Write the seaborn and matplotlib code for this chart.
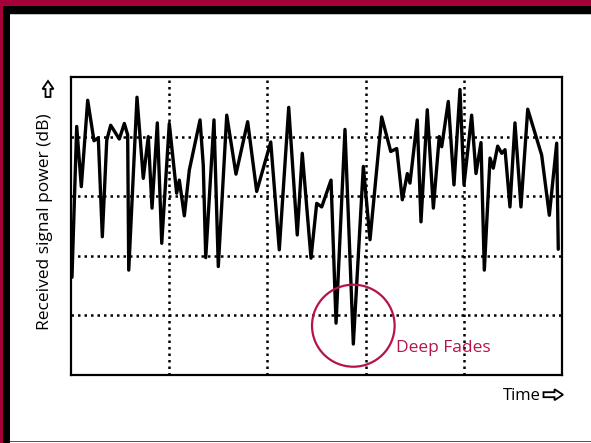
import numpy as np
import pandas as pd
import matplotlib
matplotlib.use("Agg")
import matplotlib.pyplot as plt
from matplotlib.patches import Rectangle, Ellipse, Polygon
import seaborn as sns

# ---- data (axis units 0..5 on both axes) ----
time = [0.01, 0.058, 0.105, 0.17, 0.234, 0.278, 0.319, 0.364, 0.404, 0.492,
        0.543, 0.577, 0.588, 0.672, 0.736, 0.787, 0.825, 0.879, 0.924, 1.001,
        1.076, 1.103, 1.154, 1.205, 1.314, 1.347, 1.372, 1.456, 1.50, 1.586,
        1.680, 1.799, 1.891, 2.034, 2.121, 2.217, 2.304, 2.355, 2.444, 2.502,
        2.553, 2.648, 2.699, 2.790, 2.875, 2.977, 3.045, 3.164, 3.256, 3.317,
        3.374, 3.425, 3.452, 3.526, 3.564, 3.628, 3.690, 3.750, 3.775, 3.842,
        3.900, 3.961, 4.002, 4.080, 4.124, 4.175, 4.209, 4.267, 4.300, 4.345,
        4.386, 4.420, 4.470, 4.521, 4.582, 4.651, 4.793, 4.871, 4.946, 4.962]
power = [1.64, 4.17, 3.16, 4.61, 3.93, 3.98, 2.32, 3.94, 4.19, 3.96,
         4.22, 4.03, 1.76, 4.66, 3.30, 4.00, 2.80, 4.23, 2.21, 4.22,
         3.05, 3.27, 2.67, 3.44, 4.28, 3.52, 1.97, 4.28, 1.82, 4.36,
         3.37, 4.25, 3.08, 3.91, 2.10, 4.49, 2.35, 3.72, 1.96, 2.88,
         2.82, 3.27, 0.87, 4.12, 0.52, 3.50, 2.27, 4.33, 3.75, 3.80,
         2.94, 3.38, 3.22, 4.28, 2.57, 4.45, 2.80, 4.00, 3.83, 4.59,
         3.19, 4.79, 3.19, 4.36, 3.38, 3.90, 1.76, 3.64, 3.47, 3.84,
         3.72, 3.78, 2.82, 4.23, 2.82, 4.46, 3.69, 2.68, 3.89, 2.11]
grid_ticks = [1, 2, 3, 4]
ylabel_text = "Received signal power (dB)"
xlabel_text = "Time"
annot_text = "Deep Fades"
fade_center = (2.875, 0.827)

RED = "#A6003A"
ACCENT = "#B8124C"
W, H = 591, 443

sns.set_theme(style="white")
plt.rcParams['font.family'] = ['Open Sans', 'DejaVu Sans']

fig = plt.figure(figsize=(W / 100, H / 100), dpi=100)
fig.patch.set_facecolor("white")

def fx(x):
    return x / W

def fy(y):
    return 1 - y / H

def px_rect(x0, y0, x1, y1, color):
    fig.add_artist(Rectangle((fx(x0), fy(y1)), (x1 - x0) / W, (y1 - y0) / H,
                             transform=fig.transFigure, facecolor=color,
                             edgecolor="none", zorder=0))

def hollow_arrow(pts):
    fig.add_artist(Polygon([(fx(a), fy(b)) for a, b in pts], closed=True,
                           transform=fig.transFigure, facecolor="white",
                           edgecolor="black", linewidth=1.3, joinstyle="miter",
                           zorder=5))

# frame
px_rect(0, 0, W, 6, RED)
px_rect(0, 0, 3, H, RED)
px_rect(3, 6, W, 14, "black")
px_rect(3, 6, 10, H, "black")
px_rect(10, 14, W, 15, "#c0c0c0")
px_rect(10, 440.5, W, 442, "#555555")

ax = fig.add_axes([71 / W, 1 - 375 / H, (562 - 71) / W, (375 - 77) / H])
df = pd.DataFrame({"time": time, "power": power})
sns.lineplot(data=df, x="time", y="power", ax=ax, color="black",
             linewidth=2.4, estimator=None, sort=False, zorder=3)
ax.lines[0].set_solid_joinstyle("round")

ax.set_xlim(0, 5)
ax.set_ylim(0, 5)
for g in grid_ticks:
    ax.axvline(g, color="black", linestyle=(0, (1, 1.6)), linewidth=1.8, zorder=1)
    ax.axhline(g, color="black", linestyle=(0, (1, 1.6)), linewidth=1.8, zorder=1)
ax.set_xticks([])
ax.set_yticks([])
ax.set_xlabel("")
ax.set_ylabel("")
for s in ax.spines.values():
    s.set_visible(True)
    s.set_color("black")
    s.set_linewidth(1.6)

ell = Ellipse(fade_center, width=2 * 41.3 / 98.2, height=2 * 41 / 59.6,
              fill=False, edgecolor=ACCENT, linewidth=1.6, zorder=4, clip_on=False)
ax.add_patch(ell)
ax.text(3.31, 0.39, annot_text, color=ACCENT, fontsize=12.5, ha="left",
        va="baseline", zorder=5)

# x label + hollow right arrow
fig.text(fx(541), fy(400), xlabel_text, ha="right", va="baseline",
         fontsize=12, color="black")
c = 394.7
hollow_arrow([(543.5, c - 2.5), (554.5, c - 2.5), (554.5, c - 5.5), (563, c),
              (554.5, c + 5.5), (554.5, c + 2.5), (543.5, c + 2.5)])

# y label + hollow up arrow
fig.text(fx(53), fy(330), ylabel_text, ha="right", va="bottom",
         rotation=90, fontsize=12.5, color="black")
cx = 48
hollow_arrow([(cx - 2.5, 97), (cx - 2.5, 89), (cx - 5.5, 89), (cx, 81),
              (cx + 5.5, 89), (cx + 2.5, 89), (cx + 2.5, 97)])

fig.savefig("out.png", dpi=100, facecolor="white")
